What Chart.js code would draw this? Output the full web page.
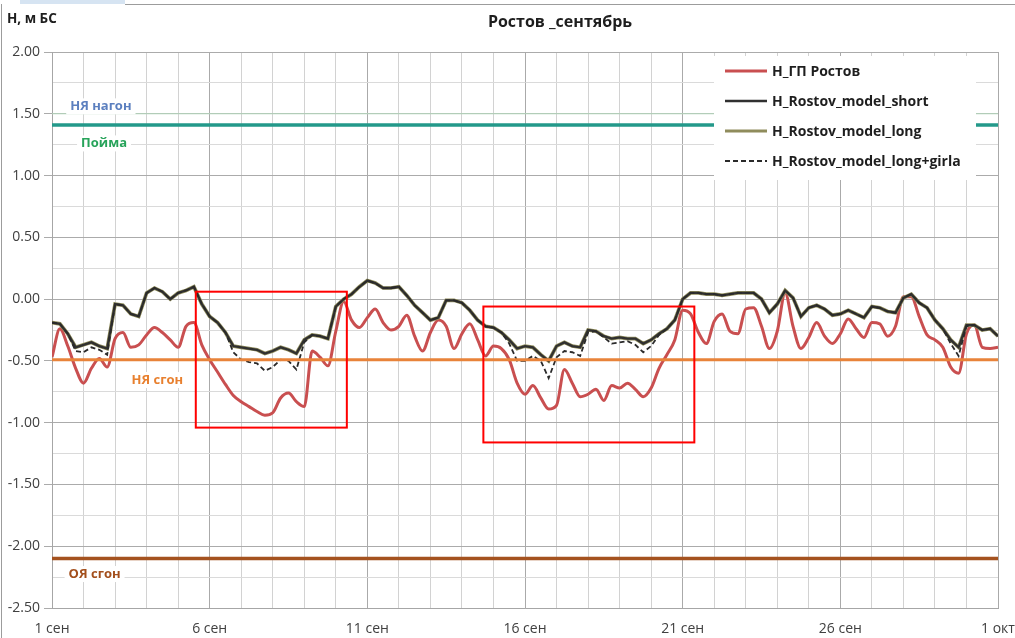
<!DOCTYPE html>
<html>
<head>
<meta charset="utf-8">
<title>Ростов _сентябрь</title>
<script src="https://cdn.jsdelivr.net/npm/chart.js@4"></script>
<style>
  html, body { margin: 0; padding: 0; background: #ffffff; }
  canvas { display: block; }
</style>
</head>
<body>
<canvas id="chart" width="1015" height="638"></canvas>
<script>
// Sampling interval of the level series, in days from 1 Sep 00:00 (6-hour steps)
const STEP_DAYS = 0.25;

// Tick labels of the time axis (every 5 days)
const dateLabels = ['1 сен', '6 сен', '11 сен', '16 сен', '21 сен', '26 сен', '1 окт'];

// Series names
const seriesNames = ['H_ГП Ростов', 'H_Rostov_model_short', 'H_Rostov_model_long', 'H_Rostov_model_long+girla'];

// Observed level at the Rostov gauge, m BS
const hGP = [
  -0.47, -0.24, -0.38, -0.56, -0.68, -0.56, -0.48, -0.55, -0.32, -0.27,
  -0.39, -0.37, -0.29, -0.23, -0.27, -0.33, -0.39, -0.22, -0.19, -0.37,
  -0.49, -0.59, -0.69, -0.78, -0.83, -0.87, -0.91, -0.94, -0.92, -0.80,
  -0.76, -0.83, -0.87, -0.42, -0.47, -0.54, -0.26, -0.02, -0.17, -0.23,
  -0.15, -0.08, -0.19, -0.25, -0.22, -0.13, -0.30, -0.42, -0.27, -0.17,
  -0.22, -0.40, -0.28, -0.20, -0.33, -0.46, -0.38, -0.40, -0.49, -0.68,
  -0.77, -0.70, -0.80, -0.89, -0.86, -0.57, -0.68, -0.79, -0.77, -0.73,
  -0.82, -0.70, -0.72, -0.68, -0.73, -0.79, -0.72, -0.56, -0.45, -0.33,
  -0.09, -0.12, -0.27, -0.36, -0.18, -0.12, -0.26, -0.28, -0.08, -0.07,
  -0.22, -0.40, -0.26,  0.05, -0.22, -0.40, -0.31, -0.19, -0.30, -0.36,
  -0.28, -0.16, -0.24, -0.31, -0.19, -0.20, -0.30, -0.22,  0.02,  0.02,
  -0.14, -0.29, -0.33, -0.39, -0.55, -0.60, -0.28, -0.21, -0.39, -0.40,
  -0.39
];

// Model run, short domain
const modelShort = [
  -0.19, -0.20, -0.28, -0.39, -0.37, -0.35, -0.38, -0.40, -0.04, -0.05,
  -0.12, -0.14,  0.05,  0.09,  0.06,  0.00,  0.05,  0.07,  0.10, -0.04,
  -0.14, -0.19, -0.27, -0.38, -0.39, -0.40, -0.41, -0.44, -0.42, -0.39,
  -0.41, -0.44, -0.33, -0.29, -0.30, -0.32, -0.06,  0.00,  0.04,  0.10,
   0.15,  0.13,  0.09,  0.09,  0.10,  0.03, -0.05, -0.11, -0.17, -0.15,
  -0.01, -0.01, -0.03, -0.09, -0.17, -0.22, -0.23, -0.27, -0.33, -0.40,
  -0.38, -0.39, -0.45, -0.50, -0.38, -0.35, -0.38, -0.39, -0.25, -0.26,
  -0.30, -0.32, -0.31, -0.32, -0.32, -0.36, -0.33, -0.28, -0.24, -0.17,
   0.00,  0.05,  0.05,  0.04,  0.04,  0.03,  0.04,  0.05,  0.05,  0.05,
   0.00, -0.11, -0.04,  0.07,  0.01, -0.14, -0.07, -0.05, -0.08, -0.13,
  -0.12, -0.09, -0.12, -0.15, -0.06, -0.07, -0.10, -0.11,  0.01,  0.04,
  -0.03, -0.07, -0.17, -0.24, -0.33, -0.39, -0.21, -0.21, -0.25, -0.24,
  -0.30
];

// Model run, long domain
const modelLong = [
  -0.19, -0.20, -0.28, -0.39, -0.37, -0.35, -0.38, -0.40, -0.04, -0.05,
  -0.12, -0.14,  0.05,  0.09,  0.06,  0.00,  0.05,  0.07,  0.10, -0.04,
  -0.14, -0.19, -0.27, -0.38, -0.39, -0.40, -0.41, -0.44, -0.42, -0.39,
  -0.41, -0.44, -0.33, -0.29, -0.30, -0.32, -0.06,  0.00,  0.04,  0.10,
   0.15,  0.13,  0.09,  0.09,  0.10,  0.03, -0.05, -0.11, -0.17, -0.15,
  -0.01, -0.01, -0.03, -0.09, -0.17, -0.22, -0.23, -0.27, -0.33, -0.40,
  -0.38, -0.39, -0.45, -0.50, -0.38, -0.35, -0.38, -0.39, -0.25, -0.26,
  -0.30, -0.32, -0.31, -0.32, -0.32, -0.36, -0.33, -0.28, -0.24, -0.17,
   0.00,  0.05,  0.05,  0.04,  0.04,  0.03,  0.04,  0.05,  0.05,  0.05,
   0.00, -0.11, -0.04,  0.07,  0.01, -0.14, -0.07, -0.05, -0.08, -0.13,
  -0.12, -0.09, -0.12, -0.15, -0.06, -0.07, -0.10, -0.11,  0.01,  0.04,
  -0.03, -0.07, -0.17, -0.24, -0.33, -0.39, -0.21, -0.21, -0.25, -0.24,
  -0.30
];

// Model run, long domain with the girla channel
const modelGirla = [
  -0.19, -0.20, -0.28, -0.42, -0.43, -0.39, -0.41, -0.45, -0.04, -0.05,
  -0.12, -0.14,  0.05,  0.09,  0.06,  0.00,  0.05,  0.07,  0.10, -0.04,
  -0.14, -0.19, -0.27, -0.43, -0.49, -0.51, -0.52, -0.58, -0.55, -0.49,
  -0.50, -0.57, -0.35, -0.29, -0.30, -0.32, -0.06,  0.00,  0.04,  0.10,
   0.15,  0.13,  0.09,  0.09,  0.10,  0.03, -0.05, -0.11, -0.17, -0.15,
  -0.01, -0.01, -0.03, -0.09, -0.17, -0.22, -0.23, -0.27, -0.36, -0.50,
  -0.50, -0.46, -0.50, -0.64, -0.47, -0.42, -0.43, -0.46, -0.27, -0.26,
  -0.31, -0.36, -0.35, -0.34, -0.37, -0.43, -0.38, -0.29, -0.24, -0.17,
   0.00,  0.05,  0.05,  0.04,  0.04,  0.03,  0.04,  0.05,  0.05,  0.05,
   0.00, -0.11, -0.04,  0.07,  0.01, -0.14, -0.07, -0.05, -0.08, -0.13,
  -0.12, -0.09, -0.12, -0.15, -0.06, -0.07, -0.10, -0.11,  0.01,  0.04,
  -0.03, -0.07, -0.17, -0.24, -0.36, -0.46, -0.22, -0.21, -0.25, -0.24,
  -0.30
];

// Reference levels, m BS
const levelNames   = ['НЯ нагон', 'Пойма', 'НЯ сгон', 'ОЯ сгон'];
const levelHeights = [1.50, 1.41, -0.49, -2.10];

// Highlighted surge-down episodes: day range and level range
const episodeDays   = [[4.56, 9.35], [13.68, 20.37]];
const episodeLevels = [[0.06, -1.04], [-0.06, -1.16]];

const FONT = "'Open Sans', 'Noto Sans', 'DejaVu Sans', sans-serif";
const TOTAL_DAYS = (dateLabels.length - 1) * 5;

const toPoints = arr => arr.map((v, i) => ({ x: i * STEP_DAYS, y: v }));
const flatLine = h => [{ x: 0, y: h }, { x: TOTAL_DAYS, y: h }];

const levelStyles = [
  { color: '#b5d8bd', width: 1,   text: '#5b7fbf', spot: [1.55, 1.56]  },
  { color: '#23998a', width: 3.5, text: '#27a35a', spot: [1.65, 1.26]  },
  { color: '#e8833a', width: 3,   text: '#e8802f', spot: [3.34, -0.655] },
  { color: '#a4521f', width: 3.5, text: '#a34f1c', spot: [1.35, -2.225] }
];

const seriesStyles = [
  { color: '#c94f50', width: 3,   dash: [],     order: 4, tension: 0.35 },
  { color: '#303030', width: 2.3, dash: [],     order: 2, tension: 0 },
  { color: '#8f8c5c', width: 3.7, dash: [],     order: 3, tension: 0 },
  { color: '#2a2a2a', width: 1.8, dash: [5, 3], order: 1, tension: 0 }
];

const seriesData = [hGP, modelShort, modelLong, modelGirla];

const datasets = [];
seriesData.forEach((arr, i) => {
  const s = seriesStyles[i];
  datasets.push({
    label: seriesNames[i],
    data: toPoints(arr),
    borderColor: s.color,
    borderWidth: s.width,
    borderDash: s.dash,
    order: s.order,
    tension: s.tension,
    cubicInterpolationMode: s.tension ? 'monotone' : 'default',
    pointRadius: 0,
    fill: false,
    inLegend: true
  });
});
levelHeights.forEach((h, i) => {
  datasets.push({
    label: levelNames[i],
    data: flatLine(h),
    borderColor: levelStyles[i].color,
    borderWidth: levelStyles[i].width,
    order: 0,
    pointRadius: 0,
    fill: false,
    inLegend: false
  });
});

// Frame, titles, episode boxes, level labels and the legend
const decorations = {
  id: 'decorations',
  beforeDraw(chart) {
    const c = chart.ctx;
    c.save();
    c.fillStyle = '#ffffff';
    c.fillRect(0, 0, chart.width, chart.height);
    c.fillStyle = '#d6e4f2';
    c.fillRect(20, 0, 105, 4);
    c.strokeStyle = '#9c9c9c';
    c.lineWidth = 1;
    c.beginPath();
    c.moveTo(125, 4.5); c.lineTo(chart.width, 4.5);
    c.moveTo(1.5, 4); c.lineTo(1.5, chart.height);
    c.stroke();
    c.restore();
  },
  afterDatasetsDraw(chart) {
    const c = chart.ctx;
    const xs = chart.scales.x, ys = chart.scales.y;
    c.save();

    // episode boxes
    c.strokeStyle = '#ff0000';
    c.lineWidth = 2;
    episodeDays.forEach((dr, i) => {
      const x0 = xs.getPixelForValue(dr[0]), x1 = xs.getPixelForValue(dr[1]);
      const y0 = ys.getPixelForValue(episodeLevels[i][0]), y1 = ys.getPixelForValue(episodeLevels[i][1]);
      c.strokeRect(x0, y0, x1 - x0, y1 - y0);
    });

    // level labels on white plates
    c.font = 'bold 13px ' + FONT;
    c.textBaseline = 'middle';
    c.textAlign = 'center';
    levelNames.forEach((name, i) => {
      const st = levelStyles[i];
      const px = xs.getPixelForValue(st.spot[0]);
      const py = ys.getPixelForValue(st.spot[1]);
      const w = c.measureText(name).width + 8;
      c.fillStyle = '#ffffff';
      c.fillRect(px - w / 2, py - 8, w, 16);
      c.fillStyle = st.text;
      c.fillText(name, px, py);
    });

    // legend
    const lx = 714, ly = 56, lw = 262, lh = 124;
    c.fillStyle = '#ffffff';
    c.fillRect(lx, ly, lw, lh);
    c.font = 'bold 14px ' + FONT;
    c.textAlign = 'left';
    const rows = chart.data.datasets.filter(d => d.inLegend);
    rows.forEach((d, i) => {
      const ry = 71 + i * 30;
      c.strokeStyle = d.borderColor;
      c.lineWidth = Math.min(d.borderWidth, 3);
      c.setLineDash(d.borderDash || []);
      c.beginPath();
      c.moveTo(725, ry); c.lineTo(767, ry);
      c.stroke();
      c.setLineDash([]);
      c.fillStyle = '#1e1e1e';
      c.fillText(d.label, 772, ry + 1);
    });

    // titles
    c.fillStyle = '#1e1e1e';
    c.textAlign = 'center';
    c.font = 'bold 16px ' + FONT;
    c.fillText('Ростов _сентябрь', 560, 22);
    c.textAlign = 'left';
    c.font = 'bold 13.5px ' + FONT;
    c.fillText('Н, м БС', 7, 19);
    c.restore();
  }
};

const isMajorY = v => Math.round(v * 4) % 2 === 0;

new Chart(document.getElementById('chart'), {
  type: 'line',
  data: { datasets },
  options: {
    responsive: false,
    animation: false,
    devicePixelRatio: 1,
    layout: { padding: { left: 0, right: 17, top: 52, bottom: 0 } },
    plugins: { legend: { display: false }, tooltip: { enabled: false } },
    scales: {
      x: {
        type: 'linear',
        min: 0,
        max: TOTAL_DAYS,
        afterFit(s) { s.height = 30; s.paddingLeft = 0; s.paddingRight = 0; },
        ticks: {
          stepSize: 1,
          autoSkip: false,
          maxRotation: 0,
          padding: 13,
          color: '#404040',
          font: { family: FONT, size: 14 },
          callback: v => (Math.round(v) % 5 === 0 ? dateLabels[Math.round(v) / 5] : '')
        },
        grid: {
          drawTicks: false,
          color: ctx => (ctx.tick && Math.round(ctx.tick.value) % 5 === 0 ? '#aaaaaa' : '#d2d2d2'),
          lineWidth: 1
        },
        border: { color: '#a6a6a6' }
      },
      y: {
        min: -2.5,
        max: 2,
        afterFit(s) { s.width = 52; s.paddingTop = 0; s.paddingBottom = 0; },
        ticks: {
          stepSize: 0.25,
          autoSkip: false,
          padding: 4,
          color: '#404040',
          font: { family: FONT, size: 14 },
          callback: v => {
            if (!isMajorY(v)) return '';
            const r = Math.round(v * 100) / 100;
            return (Math.abs(r) < 1e-9 ? 0 : r).toFixed(2);
          }
        },
        grid: {
          tickLength: 8,
          color: ctx => (ctx.tick && isMajorY(ctx.tick.value) ? '#ababab' : '#dadada'),
          tickColor: ctx => (ctx.tick && isMajorY(ctx.tick.value) ? '#ababab' : 'rgba(0,0,0,0)'),
          lineWidth: 1
        },
        border: { color: '#a6a6a6' }
      }
    }
  },
  plugins: [decorations]
});
</script>
</body>
</html>
